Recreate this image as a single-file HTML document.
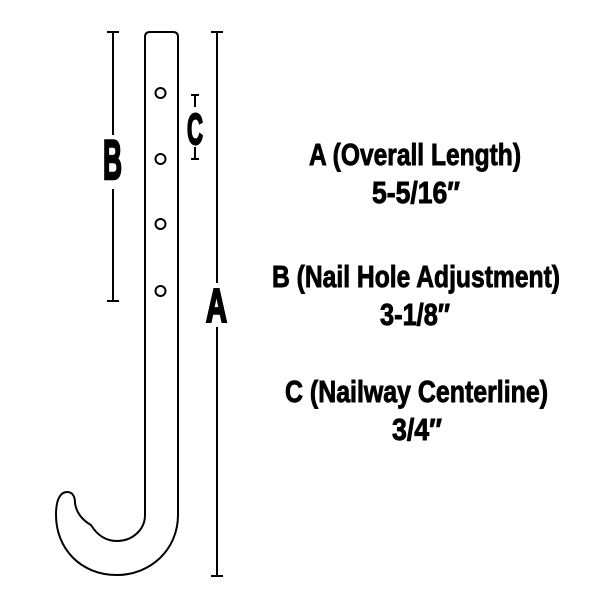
<!DOCTYPE html>
<html><head><style>html,body{margin:0;padding:0;background:#fff}</style></head>
<body>
<svg width="600" height="600" viewBox="0 0 600 600" xmlns="http://www.w3.org/2000/svg">
<g fill="none" stroke="#000" stroke-width="2">
<path d="M178,36 L178,515 C178,550 150,575 117,575 C80,575 56,548 56,515 C56,500 60,492 67,492 C73,492 75,497 75,503 C76,512 82,520 91,525 C97,535 106,541 117,541 C132,541 145,530 145,515 L145,37 Q145,32 150,32 L173,32 Q178,32 178,37 Z"/>
<circle cx="160.5" cy="93" r="5"/>
<circle cx="160.5" cy="159" r="5"/>
<circle cx="160.5" cy="224" r="5"/>
<circle cx="160.5" cy="291" r="5"/>
<path d="M113,32 L113,135 M113,189 L113,301 M107,32 L119,32 M107,301 L119,301"/>
<path d="M195,95 L195,107 M195,147 L195,159 M191,95 L199,95 M191,159 L199,159"/>
<path d="M217,32 L217,283 M217,327 L217,576 M211,32 L223,32 M211,576 L223,576"/>
</g>
<g font-family="Liberation Sans, sans-serif" font-weight="bold" fill="#000" stroke="#000">
<text x="103" y="179" font-size="56" stroke-width="2.5" textLength="19" lengthAdjust="spacingAndGlyphs">B</text>
<text x="187" y="144" font-size="44" stroke-width="2.2" textLength="16" lengthAdjust="spacingAndGlyphs">C</text>
<text x="206" y="322" font-size="47" stroke-width="2.5" textLength="21" lengthAdjust="spacingAndGlyphs">A</text>
<g font-size="31" stroke-width="0.9">
<text x="309" y="165" textLength="212" lengthAdjust="spacingAndGlyphs">A (Overall Length)</text>
<text x="372" y="203" textLength="88" lengthAdjust="spacingAndGlyphs">5-5/16″</text>
<text x="272" y="287" textLength="288" lengthAdjust="spacingAndGlyphs">B (Nail Hole Adjustment)</text>
<text x="380" y="325" textLength="70" lengthAdjust="spacingAndGlyphs">3-1/8″</text>
<text x="285" y="402" textLength="263" lengthAdjust="spacingAndGlyphs">C (Nailway Centerline)</text>
<text x="392" y="440" textLength="50" lengthAdjust="spacingAndGlyphs">3/4″</text>
</g>
</g>
</svg>
</body></html>
